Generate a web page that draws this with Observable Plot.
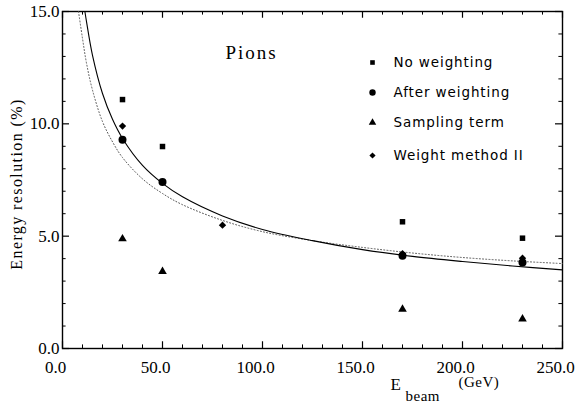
<!DOCTYPE html>
<html>
<head>
<meta charset="utf-8">
<script src="https://cdn.jsdelivr.net/npm/d3@7"></script>
<script src="https://cdn.jsdelivr.net/npm/@observablehq/plot@0.6"></script>
<style>
  html, body { margin: 0; padding: 0; background: white; }
</style>
</head>
<body>
<div id="chart"></div>
<script>
// ---- data ----
const energies = [30, 50, 170, 230];
const noWeighting = [11.08, 8.99, 5.64, 4.91];
const afterWeighting = [9.29, 7.41, 4.13, 3.83];
const samplingTerm = [4.88, 3.43, 1.75, 1.31];
const methodIIEnergies = [30, 80, 170, 230];
const methodII = [9.90, 5.49, 4.22, 4.02];

// fitted curves, values
const solidE = [11.2, 12, 15, 20, 25, 30, 40, 50, 60, 80, 100, 125, 150, 175, 200, 225, 250];
const solidRes = [15.0, 14.55, 13.05, 11.35, 10.2, 9.35, 8.15, 7.35, 6.75, 5.9, 5.3, 4.8, 4.4, 4.1, 3.87, 3.67, 3.5];
const dottedE = [8, 10, 12, 15, 20, 25, 30, 40, 50, 60, 80, 100, 125, 150, 175, 200, 225, 250];
const dottedRes = [15.0, 13.8, 12.7, 11.5, 10.1, 9.2, 8.5, 7.55, 6.9, 6.4, 5.7, 5.2, 4.8, 4.5, 4.25, 4.05, 3.9, 3.78];

const xMajor = [0, 50, 100, 150, 200, 250];
const xMinor = [10, 20, 30, 40, 60, 70, 80, 90, 110, 120, 130, 140, 160, 170, 180, 190, 210, 220, 230, 240];
const yMajor = [0, 5, 10, 15];
const yMinor = [1, 2, 3, 4, 6, 7, 8, 9, 11, 12, 13, 14];

const legendLabels = ["No weighting", "After weighting", "Sampling term", "Weight method II"];
const legendSymbols = ["square", "circle", "triangle", "diamond2"];

// ---- tables ----
const pts = (xs, ys) => xs.map((x, i) => ({x, y: ys[i]}));
const solid = pts(solidE, solidRes);
const dotted = pts(dottedE, dottedRes);

const legendRowsDy = [51, 81, 111, 144];
const legendR = [2.6, 3.2, 2.8, 2.8];

const legendMarks = legendLabels.flatMap((label, i) => [
  Plot.dot([label], {frameAnchor: "top-left", dx: 310, dy: legendRowsDy[i], symbol: legendSymbols[i], r: legendR[i], fill: "black", stroke: "none"}),
  Plot.text([label], {frameAnchor: "top-left", dx: 331, dy: legendRowsDy[i], text: d => d, textAnchor: "start", lineAnchor: "middle", fontFamily: "DejaVu Sans", fontSize: 13.5, fill: "black"})
]);

const chart = Plot.plot({
  width: 576,
  height: 405,
  marginLeft: 62,
  marginRight: 14,
  marginTop: 11,
  marginBottom: 57,
  x: {domain: [0, 250]},
  y: {domain: [0, 15]},
  style: {fontFamily: "Liberation Serif", fontSize: "17px", background: "white", color: "black"},
  marks: [
    // inward ticks, bottom & top
    Plot.ruleX(xMajor, {x: d => d, y1: 0, y2: 0.3, stroke: "black", strokeWidth: 1.2}),
    Plot.ruleX(xMinor, {x: d => d, y1: 0, y2: 0.16, stroke: "black", strokeWidth: 1}),
    Plot.ruleX(xMajor, {x: d => d, y1: 15, y2: 14.7, stroke: "black", strokeWidth: 1.2}),
    Plot.ruleX(xMinor, {x: d => d, y1: 15, y2: 14.84, stroke: "black", strokeWidth: 1}),
    // inward ticks, left & right
    Plot.ruleY(yMajor, {y: d => d, x1: 0, x2: 3.5, stroke: "black", strokeWidth: 1.2}),
    Plot.ruleY(yMinor, {y: d => d, x1: 0, x2: 1.8, stroke: "black", strokeWidth: 1}),
    Plot.ruleY(yMajor, {y: d => d, x1: 250, x2: 246.5, stroke: "black", strokeWidth: 1.2}),
    Plot.ruleY(yMinor, {y: d => d, x1: 250, x2: 248.2, stroke: "black", strokeWidth: 1}),
    Plot.frame({stroke: "black", strokeWidth: 1.4}),
    Plot.axisX({ticks: xMajor, tickSize: 0, tickPadding: 12, dx: -7, tickFormat: d => d.toFixed(1), label: null}),
    Plot.axisY({ticks: yMajor, tickSize: 0, tickPadding: 3, tickFormat: d => d.toFixed(1), label: null}),
    // curves
    Plot.line(dotted, {x: "x", y: "y", curve: "catmull-rom", stroke: "#555", strokeWidth: 1, strokeDasharray: "1,2.2"}),
    Plot.line(solid, {x: "x", y: "y", curve: "catmull-rom", stroke: "black", strokeWidth: 1.1}),
    // points
    Plot.dot(pts(energies, noWeighting), {x: "x", y: "y", symbol: "square", r: 3.1, fill: "black", stroke: "none"}),
    Plot.dot(pts(energies, afterWeighting), {x: "x", y: "y", symbol: "circle", r: 4, fill: "black", stroke: "none"}),
    Plot.dot(pts(energies, samplingTerm), {x: "x", y: "y", symbol: "triangle", r: 3.2, fill: "black", stroke: "none"}),
    Plot.dot(pts(methodIIEnergies, methodII), {x: "x", y: "y", symbol: "diamond2", r: 3.3, fill: "black", stroke: "none"}),
    // annotations
    Plot.text(["Pions"], {frameAnchor: "top-left", dx: 163, dy: 41, text: d => d, textAnchor: "start", lineAnchor: "middle", fontFamily: "Liberation Serif", fontSize: 19}),
    ...legendMarks,
    // axis titles
    Plot.text(["Energy resolution (%)"], {frameAnchor: "left", dx: -46, dy: 4, rotate: -90, text: d => d, textAnchor: "middle", lineAnchor: "middle", fontSize: 16}),
    Plot.text(["E"], {frameAnchor: "bottom-left", dx: 328, dy: 36, text: d => d, textAnchor: "start", lineAnchor: "middle", fontSize: 17}),
    Plot.text(["beam"], {frameAnchor: "bottom-left", dx: 343, dy: 48, text: d => d, textAnchor: "start", lineAnchor: "middle", fontSize: 15}),
    Plot.text(["(GeV)"], {frameAnchor: "bottom-left", dx: 396, dy: 34, text: d => d, textAnchor: "start", lineAnchor: "middle", fontSize: 15})
  ]
});

document.getElementById("chart").appendChild(chart);

// letter spacing tweaks
chart.querySelectorAll("text").forEach(t => {
  const s = t.textContent;
  if (s === "Energy resolution (%)") t.style.letterSpacing = "1.4px";
  if (s === "Pions") t.style.letterSpacing = "2px";
  if (legendLabels.includes(s)) t.style.letterSpacing = "0.9px";
  if (s === "beam" || s === "(GeV)") t.style.letterSpacing = "0.5px";
});
</script>
</body>
</html>
